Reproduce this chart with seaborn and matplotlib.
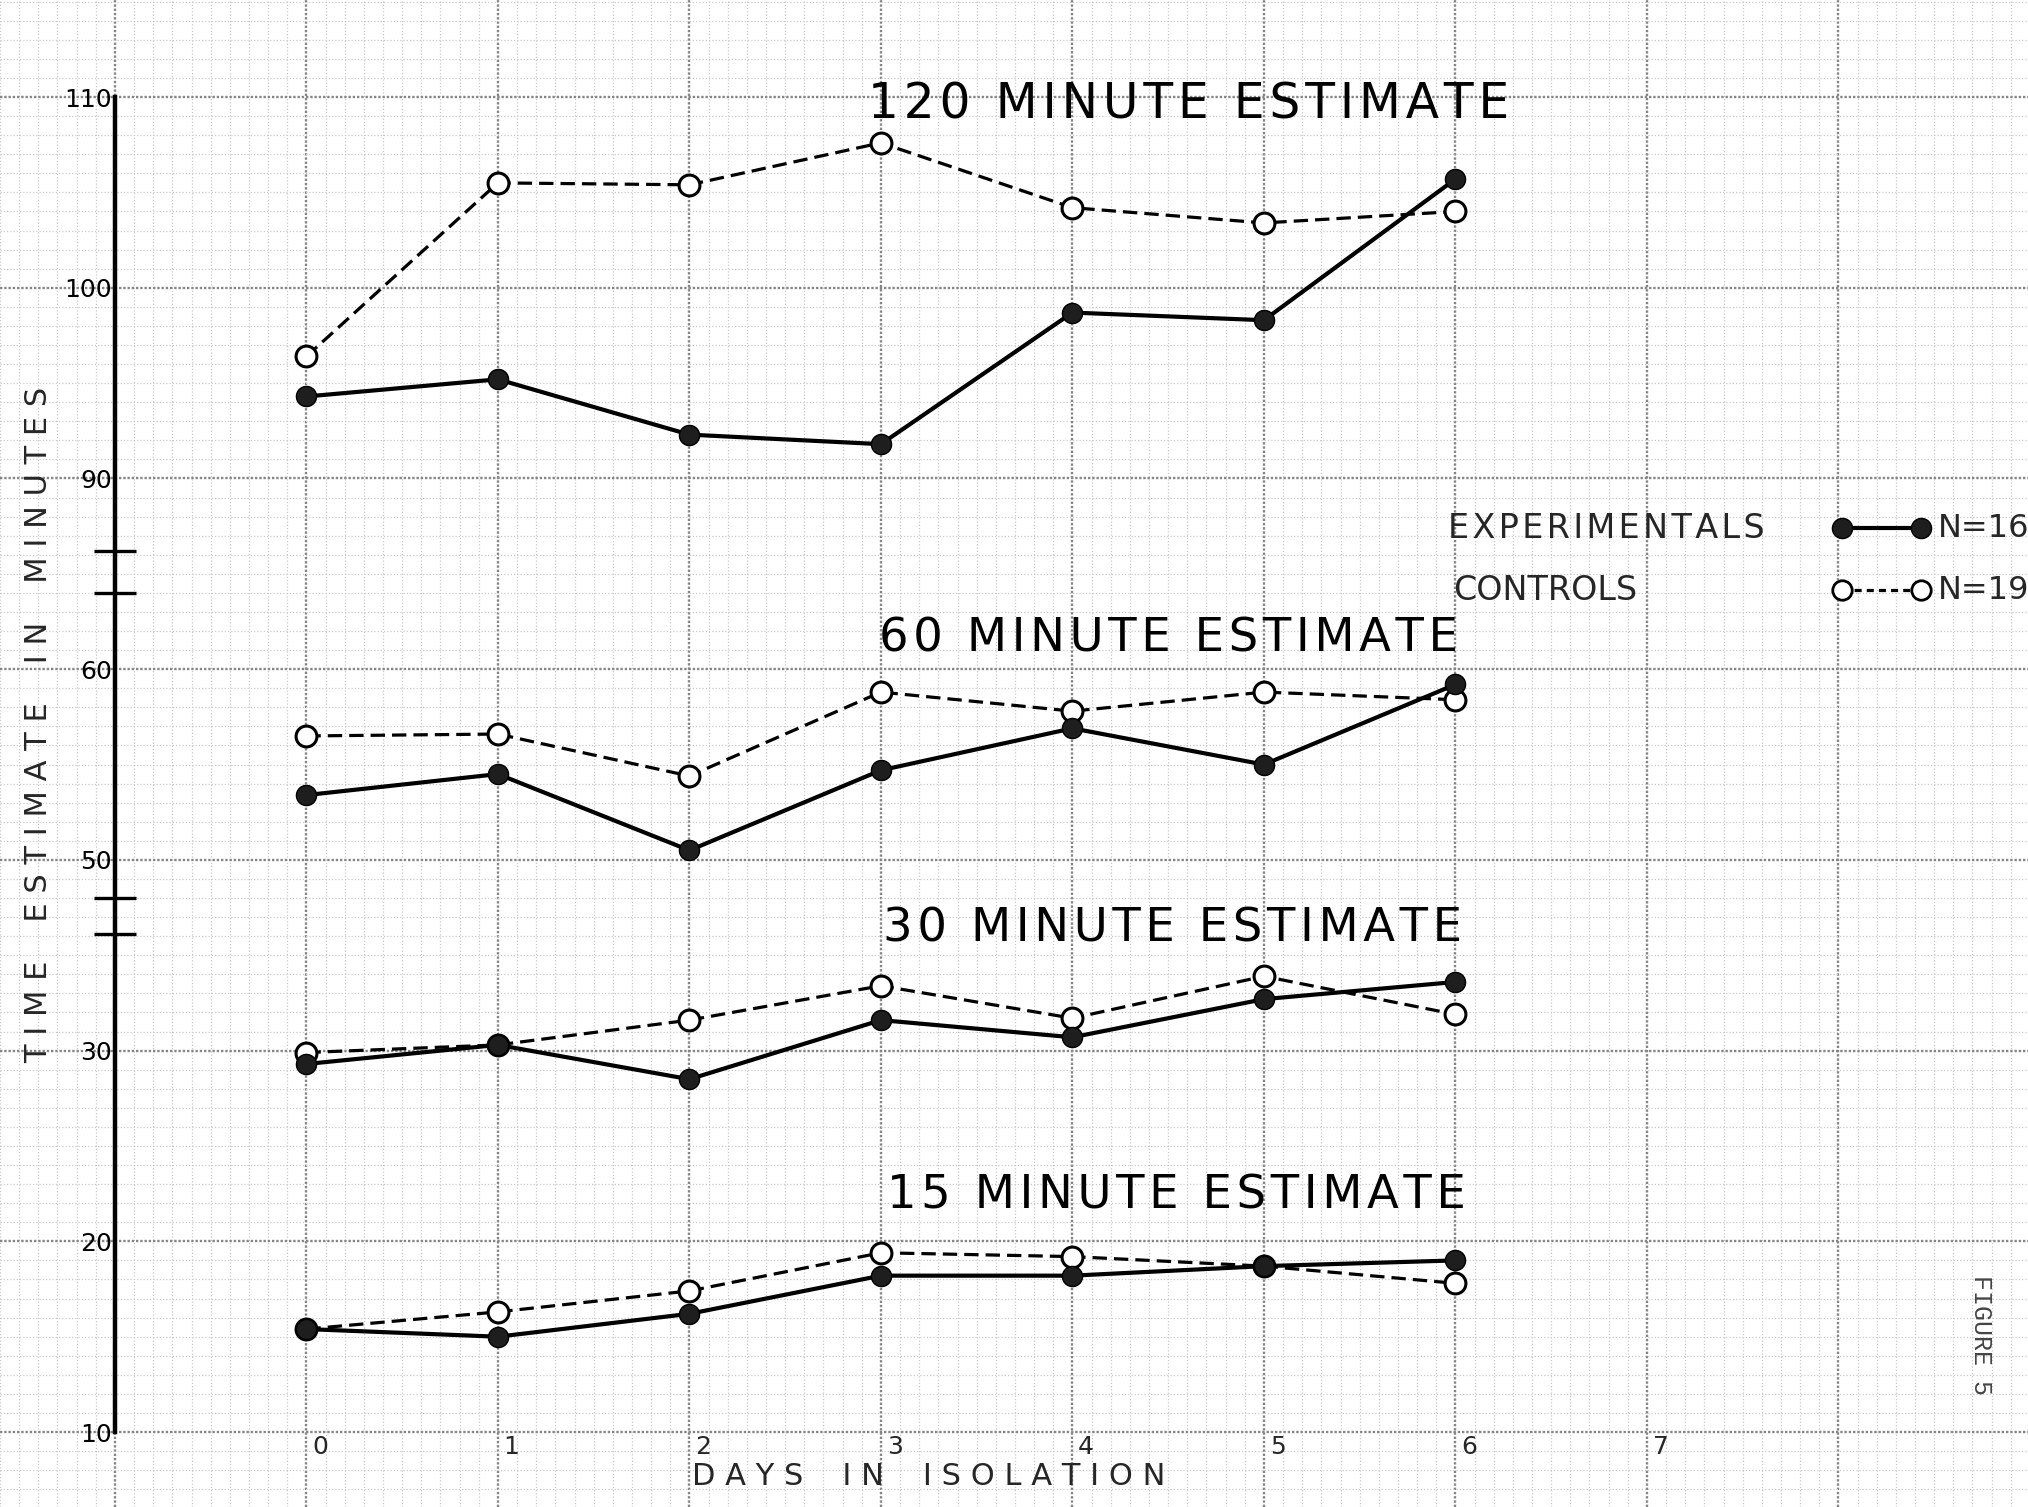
import numpy as np
import pandas as pd
import matplotlib
matplotlib.use("Agg")
import matplotlib.pyplot as plt
import seaborn as sns

# values (minutes)
days = [0, 1, 2, 3, 4, 5, 6]
estimates = ["120", "60", "30", "15"]

exp_120 = [94.3, 95.2, 92.3, 91.8, 98.7, 98.3, 105.7]
ctl_120 = [96.4, 105.5, 105.4, 107.6, 104.2, 103.4, 104.0]
exp_60 = [53.4, 54.5, 50.5, 54.7, 56.9, 55.0, 59.2]
ctl_60 = [56.5, 56.6, 54.4, 58.8, 57.8, 58.8, 58.4]
exp_30 = [29.3, 30.3, 28.5, 31.6, 30.7, 32.7, 33.6]
ctl_30 = [29.9, 30.3, 31.6, 33.4, 31.7, 33.9, 31.9]
exp_15 = [15.4, 15.0, 16.2, 18.2, 18.2, 18.7, 19.0]
ctl_15 = [15.4, 16.3, 17.4, 19.4, 19.2, 18.7, 17.8]

xtick_labels = ["0", "1", "2", "3", "4", "5", "6", "7"]
ytick_labels = ["10", "20", "30", "50", "60", "90", "100", "110"]

# broken y axis: upper panels are shifted down so ticks stay evenly spaced
shift = {"120": 30, "60": 10, "30": 0, "15": 0}


def to_axis(v):
    if v >= 85:
        return v - 30
    if v >= 45:
        return v - 10
    return v


def spaced(s, sep="\u200a"):
    # poor man's letter spacing
    return sep.join(s)


rows = []
for est, e, c in zip(estimates,
                     [exp_120, exp_60, exp_30, exp_15],
                     [ctl_120, ctl_60, ctl_30, ctl_15]):
    for d, ve, vc in zip(days, e, c):
        rows.append({"estimate": est, "group": "exp", "day": d,
                     "minutes": ve, "y": ve - shift[est]})
        rows.append({"estimate": est, "group": "ctl", "day": d,
                     "minutes": vc, "y": vc - shift[est]})
df = pd.DataFrame(rows)

sns.set_style("white")
plt.rcParams["font.family"] = ["DejaVu Sans"]

fig = plt.figure(figsize=(20.28, 15.07), dpi=100)
ax = fig.add_axes([0, 0, 1, 1])
ax.set_xlim(-1.60, 8.99)
ax.set_ylim(6.07, 85.09)

# graph paper
ax.set_xticks(np.arange(-1, 9))
ax.set_xticks(np.round(np.arange(-1.6, 8.95, 0.1), 2), minor=True)
ax.set_yticks([to_axis(int(v)) for v in ytick_labels], ytick_labels)
ax.set_yticks(np.arange(7, 86, 1), minor=True)
ax.grid(which="minor", color="#cacaca", linestyle=(0, (1, 1.6)), linewidth=0.9)
ax.grid(which="major", color="#858585", linestyle=(0, (1, 0.8)), linewidth=1.7)
ax.set_axisbelow(True)

ax.tick_params(axis="x", which="both", length=0, labelbottom=False)
ax.tick_params(axis="y", which="both", length=0, pad=2, labelsize=18,
               labelcolor="black")
for lab in ax.get_yticklabels():
    lab.set_va("baseline")

for s in ["top", "right", "bottom"]:
    ax.spines[s].set_visible(False)
ax.spines["left"].set_position(("data", -1))
ax.spines["left"].set_bounds(10, 80)
ax.spines["left"].set_linewidth(3.2)
ax.spines["left"].set_color("black")

# axis break marks
for b in [36.1, 38.0, 54.0, 56.2]:
    ax.plot([-1.11, -0.89], [b, b], color="black", lw=2.4,
            solid_capstyle="butt", zorder=5)

# data
for est in estimates:
    sub = df[(df["estimate"] == est) & (df["group"] == "ctl")]
    sns.lineplot(data=sub, x="day", y="y", ax=ax, color="black",
                 linewidth=2.3, linestyle=(0, (4.5, 2.2)),
                 marker="o", markersize=15, markerfacecolor="white",
                 markeredgecolor="black", markeredgewidth=2.2,
                 errorbar=None, zorder=3)
    sub = df[(df["estimate"] == est) & (df["group"] == "exp")]
    sns.lineplot(data=sub, x="day", y="y", ax=ax, color="black",
                 linewidth=3.0, marker="o", markersize=14.5,
                 markerfacecolor="#1e1e1e", markeredgecolor="black",
                 markeredgewidth=1.0, errorbar=None, zorder=4)

ax.set_xlabel("")
ax.set_ylabel("")

# panel titles
title_pos = {"120": (2.93, 79.6), "60": (2.99, 51.6),
             "30": (3.01, 36.4), "15": (3.03, 22.4)}
title_size = {"120": 35, "60": 33.5, "30": 33.5, "15": 33.5}
for est in estimates:
    x, y = title_pos[est]
    ax.text(x, y, spaced(f"{est} MINUTE ESTIMATE"), fontsize=title_size[est],
            ha="left", va="center", color="black")

# x tick labels sit just right of the grid line
for d, lab in zip(days + [7], xtick_labels):
    ax.text(d + 0.03, 9.85, lab, fontsize=18, ha="left", va="top")

ax.text(2.014, 7.65, "D A Y S    I N    I S O L A T I O N", fontsize=22,
        ha="left", va="center")
ax.text(-1.40, 47.1, "T I M E    E S T I M A T E    I N    M I N U T E S",
        fontsize=22, rotation=90, ha="center", va="center")

# legend
ax.text(5.96, 57.4, spaced("EXPERIMENTALS"), fontsize=24, ha="left",
        va="center")
ax.text(5.99, 54.15, "CONTROLS", fontsize=24, ha="left", va="center")
ax.plot([8.02, 8.43], [57.4, 57.4], color="black", lw=3.0, marker="o",
        markersize=14.5, markerfacecolor="#1e1e1e", markeredgecolor="black")
ax.plot([8.02, 8.43], [54.15, 54.15], color="black", lw=2.3,
        linestyle=(0, (2.2, 1.6)), marker="o", markersize=14,
        markerfacecolor="white", markeredgecolor="black", markeredgewidth=2.0)
ax.text(8.52, 57.4, "N=16", fontsize=23, ha="left", va="center")
ax.text(8.52, 54.15, "N=19", fontsize=23, ha="left", va="center")

ax.text(8.745, 15.1, "FIGURE 5", fontsize=18, rotation=-90, ha="center",
        va="center", color="#444444",
        family=["Liberation Mono", "DejaVu Sans Mono"])

fig.savefig("out.png", dpi=100)
plt.close(fig)
